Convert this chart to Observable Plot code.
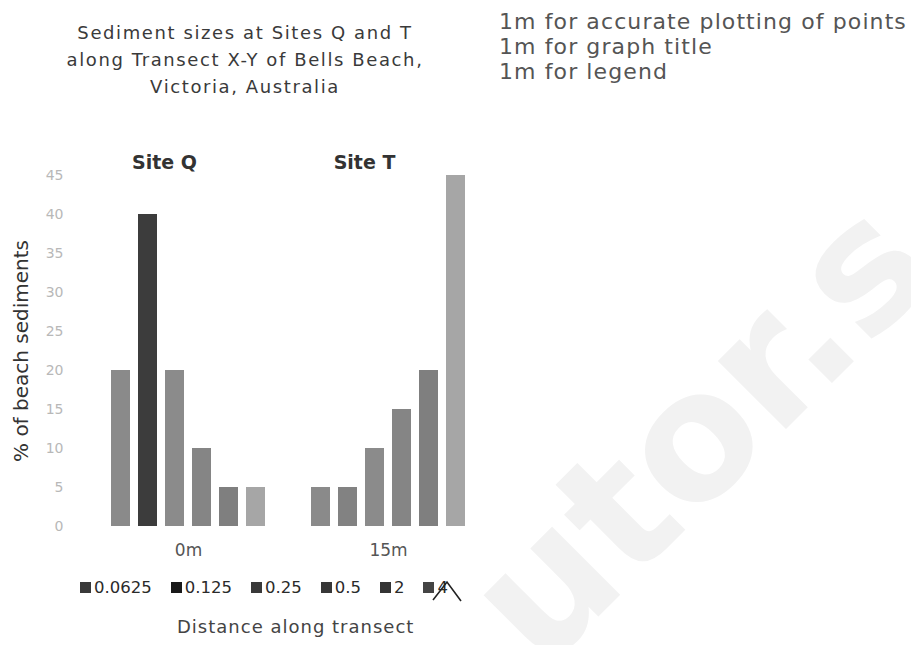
<!DOCTYPE html>
<html><head><meta charset="utf-8">
<script src="https://cdn.jsdelivr.net/npm/d3@7"></script>
<script src="https://cdn.jsdelivr.net/npm/@observablehq/plot@0.6"></script>
<style>
html,body{margin:0;padding:0;background:#fff;}
#page{position:relative;width:911px;height:645px;overflow:hidden;font-family:"DejaVu Sans",sans-serif;}
.abs{position:absolute;z-index:1;}
#wm{left:0;top:0;z-index:0;}
#title{left:45px;top:19px;width:400px;text-align:center;font-size:18px;line-height:27px;letter-spacing:1.6px;color:#3a3a3a;}
#notes{left:499px;top:9px;font-size:22px;line-height:25px;letter-spacing:1.1px;color:#555;white-space:nowrap;}
#chart{left:0;top:130px;}
#legend{left:80px;top:578px;display:flex;gap:19px;align-items:center;font-size:16.5px;color:#2a2a2a;white-space:nowrap;}
#legend .item{display:flex;align-items:center;}
#legend .sw{width:11px;height:11px;margin-right:3px;}
#xlabel{left:177px;top:616px;font-size:18px;letter-spacing:1px;color:#444;white-space:nowrap;}
#mark{left:0;top:0;}
</style></head>
<body><div id="page">
<svg id="wm" class="abs" width="911" height="645"><text transform="translate(542,673) rotate(-45)" font-family="DejaVu Sans" font-weight="bold" font-size="176" fill="#f2f2f2">utor.s</text></svg>
<div id="title" class="abs"></div>
<div id="notes" class="abs"></div>
<div id="chart" class="abs"></div>
<div id="legend" class="abs"></div>
<div id="xlabel" class="abs"></div>
<svg id="mark" class="abs" width="911" height="645" style="pointer-events:none"><path d="M433,600 L447,582 L461,601" fill="none" stroke="#222" stroke-width="1.6"/></svg>
</div>
<script>
// ---- data ----
const titleLines = ["Sediment sizes at Sites Q and T", "along Transect X-Y of Bells Beach,", "Victoria, Australia"];
const notes = ["1m for accurate plotting of points", "1m for graph title", "1m for legend"];
const sites = ["Site Q", "Site T"];
const distances = ["0m", "15m"];
const sizes = ["0.0625", "0.125", "0.25", "0.5", "2", "4"];
const siteQ = [20, 40, 20, 10, 5, 5];
const siteT = [5, 5, 10, 15, 20, 45];
const yTicks = [0, 5, 10, 15, 20, 25, 30, 35, 40, 45];
const yLabel = "% of beach sediments";
const xLabel = "Distance along transect";

// ---- styles ----
const palette = ["#8a8a8a", "#3c3c3c", "#8b8b8b", "#858585", "#7f7f7f", "#a6a6a6"];
const sizeColor = new Map(sizes.map((s, i) => [s, palette[i]]));
const overrides = new Map([["Site T|0.125", "#828282"]]);
const barFill = d => overrides.get(d.site + "|" + d.size) ?? sizeColor.get(d.size);

// ---- table ----
const rows = [];
[siteQ, siteT].forEach((vals, i) => {
  sizes.forEach((s, j) => rows.push({site: sites[i], distance: distances[i], size: s, value: vals[j]}));
});
const siteRows = sites.map((s, i) => ({site: s, distance: distances[i]}));

document.getElementById("title").innerHTML = titleLines.map(t => `<div>${t}</div>`).join("");
document.getElementById("notes").innerHTML = notes.map(t => `<div>${t}</div>`).join("");
document.getElementById("xlabel").textContent = xLabel;

const chart = Plot.plot({
  width: 502, height: 440,
  marginLeft: 101, marginRight: 28, marginTop: 45, marginBottom: 44,
  style: {fontFamily: "DejaVu Sans", background: "transparent", overflow: "visible"},
  fx: {domain: distances, paddingInner: 0.141, paddingOuter: 0, axis: null, label: null},
  x: {domain: sizes, paddingInner: 0.285, paddingOuter: 0.285, axis: null},
  y: {domain: [0, 45], axis: null},
  marks: [
    Plot.axisFx({anchor: "bottom", tickSize: 0, tickPadding: 17, fontSize: 17, color: "#555", label: null}),
    Plot.axisY({ticks: yTicks, tickSize: 0, tickPadding: 39, fontSize: 14, color: "#b8b8b8", label: null}),
    Plot.axisY({ticks: [], label: yLabel, labelArrow: "none", labelAnchor: "center", labelOffset: 89, fontSize: 20, color: "#333"}),
    Plot.barY(rows, {fx: "distance", x: "size", y: "value", fill: barFill}),
    Plot.text(siteRows, {fx: "distance", text: "site", frameAnchor: "top", dx: -24, dy: -20, fontSize: 19, fontWeight: "bold", fill: "#333"})
  ]
});
document.getElementById("chart").appendChild(chart);

const legend = document.getElementById("legend");
sizes.forEach(s => {
  const item = document.createElement("div");
  item.className = "item";
  const sw = document.createElement("span");
  sw.className = "sw";
  sw.style.background = d3.color(sizeColor.get(s)).darker(2.5).formatHex();
  const t = document.createElement("span");
  t.textContent = s;
  item.appendChild(sw); item.appendChild(t);
  legend.appendChild(item);
});
</script>
</body></html>
